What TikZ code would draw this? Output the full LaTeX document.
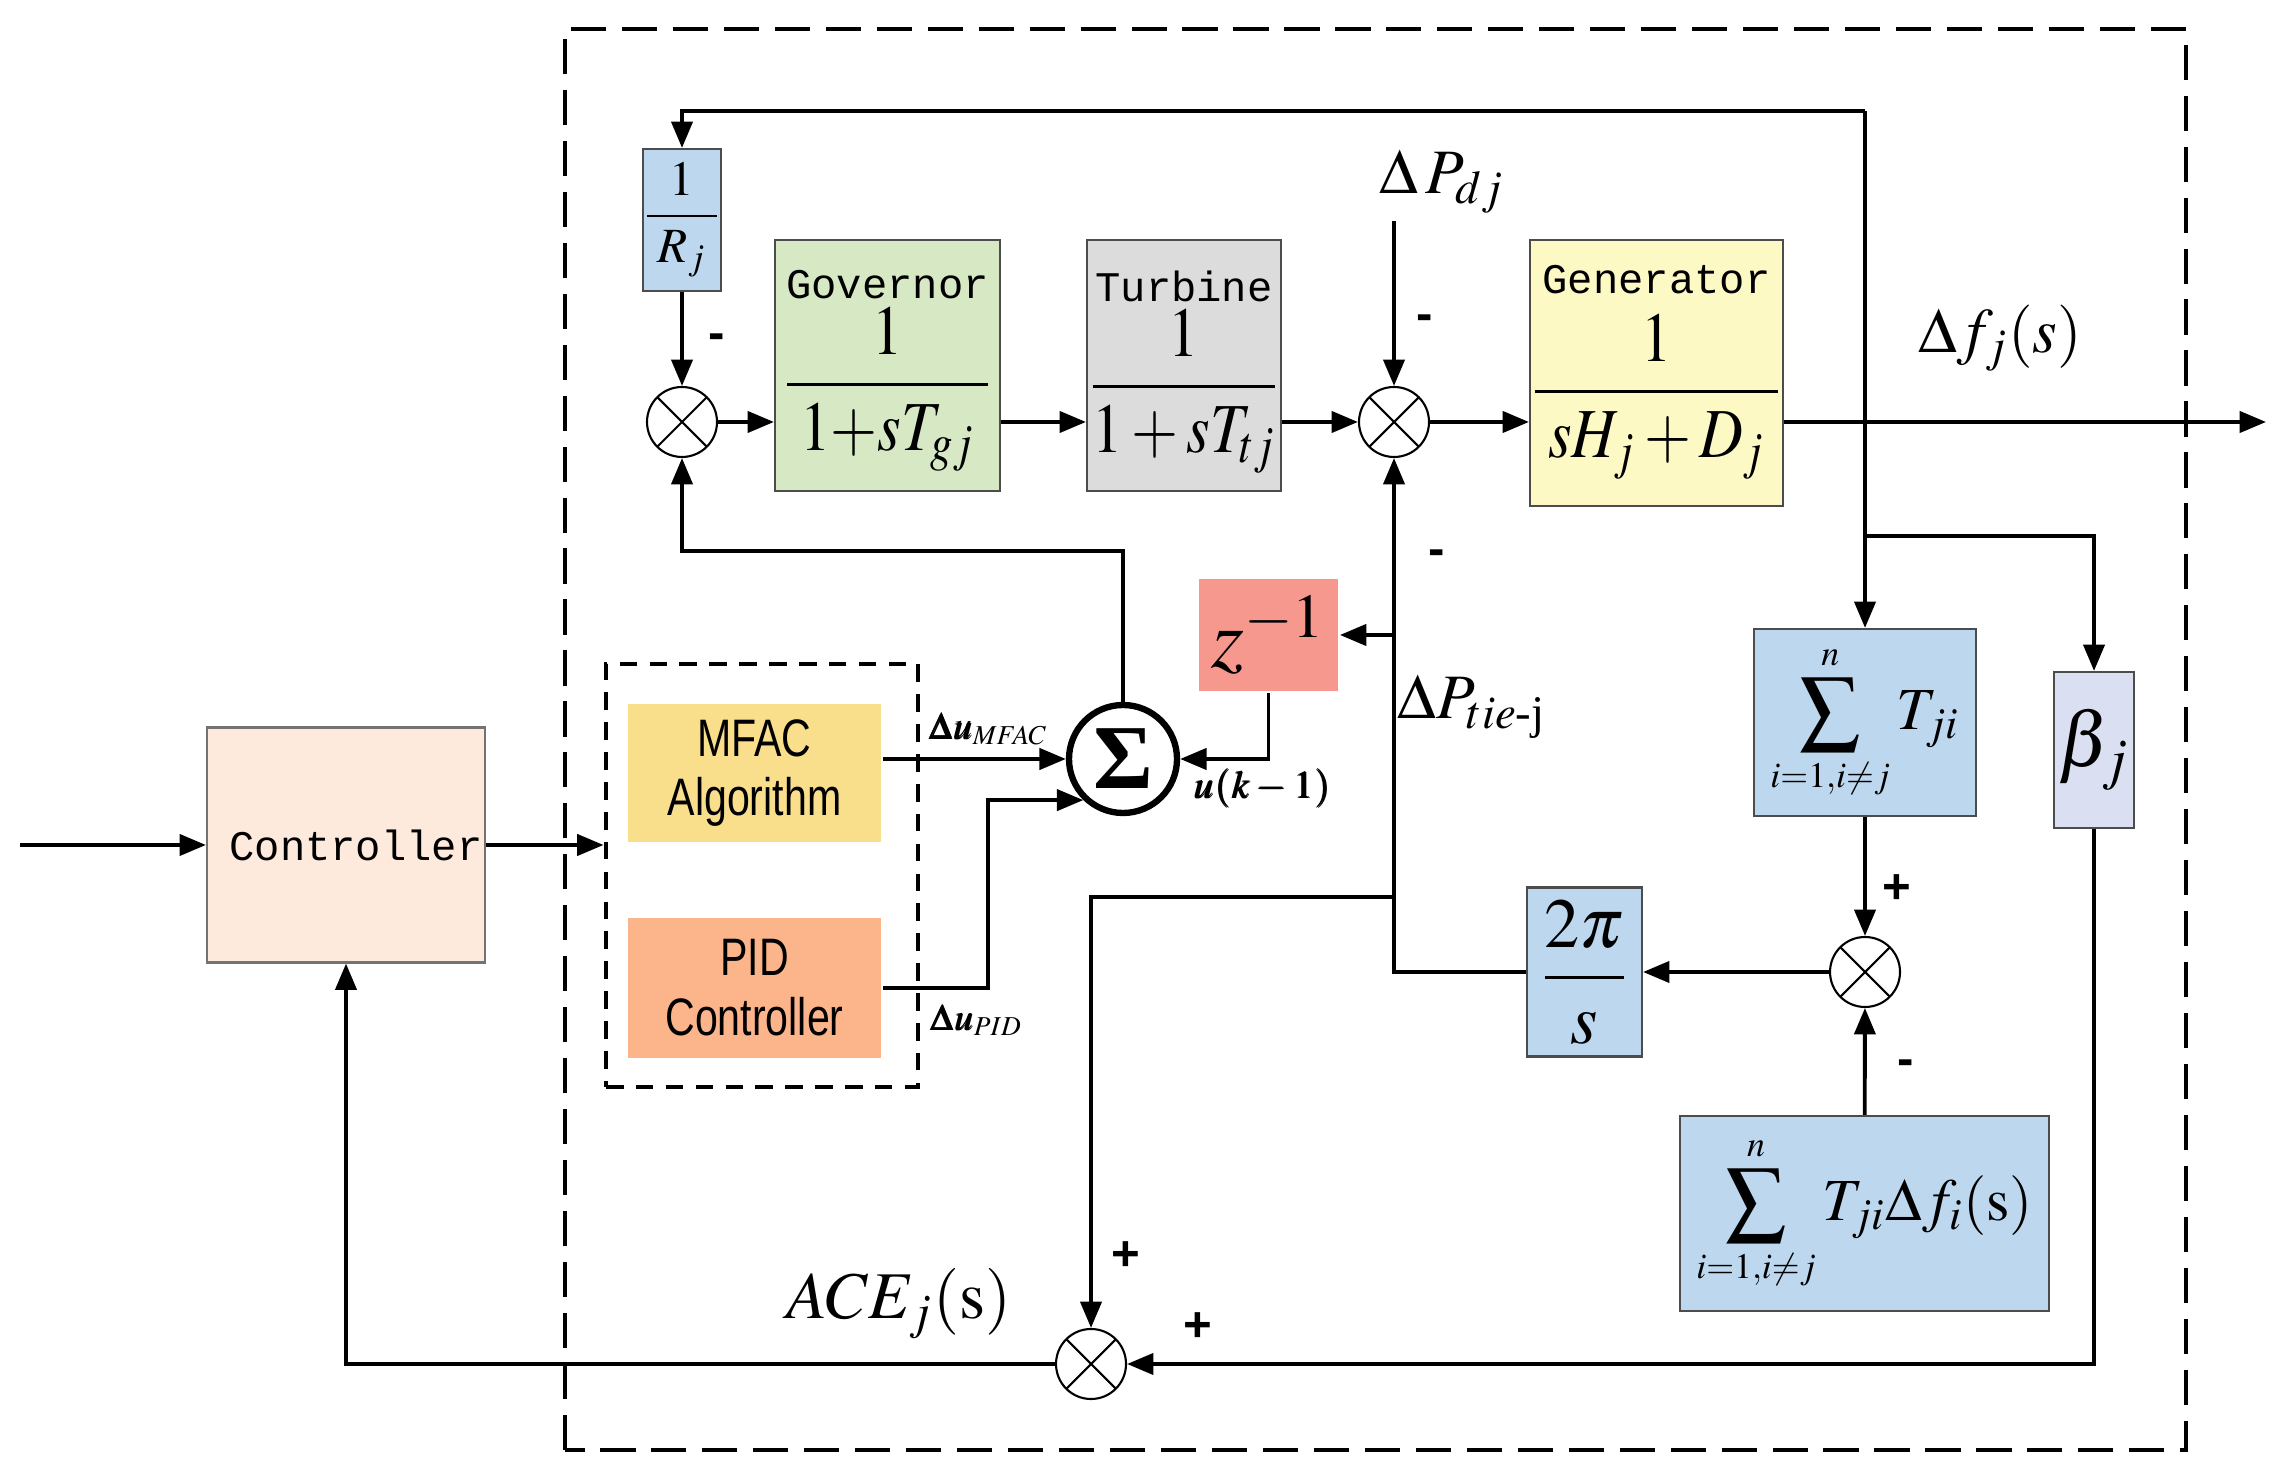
\documentclass[tikz,border=0pt]{standalone}
\usepackage{amsmath}
\usepackage{mathptmx}
\usepackage{bm}
\usepackage{graphicx}
\usepackage[no-math]{fontspec}
\setmainfont{Liberation Serif}
\setsansfont{Liberation Sans}
\setmonofont{Liberation Mono}
\newfontfamily\narrowsans[FakeStretch=0.78]{Liberation Sans}
\usepackage{tikz}
\usetikzlibrary{arrows.meta}

\definecolor{rjblue}{RGB}{189,215,238}
\definecolor{govgreen}{RGB}{214,232,196}
\definecolor{turbgrey}{RGB}{220,220,220}
\definecolor{genyellow}{RGB}{253,249,196}
\definecolor{zred}{RGB}{247,152,142}
\definecolor{mfacyellow}{RGB}{249,222,140}
\definecolor{pidorange}{RGB}{252,180,138}
\definecolor{ctrlpeach}{RGB}{253,234,221}
\definecolor{betablue}{RGB}{218,224,242}

\newcommand{\narrowfrac}[2]{\scalebox{0.86}[1]{$\dfrac{#1}{#2}$}}

\begin{document}
\begin{tikzpicture}[>={Triangle[length=7.5pt,width=6pt]}, line width=1.1pt]
		\tikzstyle{block}=[draw=black!70, line width=0.6pt, inner sep=0pt, align=center];
		\tikzstyle{summer}=[draw, circle, line width=0.6pt, minimum size=0.7cm, inner sep=0pt, path picture={\draw[line width=0.6pt] (path picture bounding box.south west) -- (path picture bounding box.north east) (path picture bounding box.north west) -- (path picture bounding box.south east);}];
		\tikzstyle{sign}=[font=\sffamily\bfseries\fontsize{14}{14}\selectfont];
		\tikzstyle{label}=[font=\fontsize{18}{20}\selectfont];
		\tikzstyle{title}=[font=\ttfamily\fontsize{12}{14}\selectfont];
		\tikzstyle{frac}=[font=\fontsize{20}{24}\selectfont];

		\useasboundingbox (0,0) rectangle (22.73,14.67);
		\draw[dash pattern=on 10pt off 4.5pt, line width=1.2pt] (5.65,0.17) rectangle (21.86,14.38);

		\node[block, fill=rjblue, minimum width=0.72cm, minimum height=1.42cm, font=\fontsize{14}{16}\selectfont] (rj) at (6.82,12.47) {$\dfrac{1}{\;R_j\;}$};
		\node[summer] (s1) at (6.82,10.45) {};
		\node[block, fill=govgreen, minimum width=2.25cm, minimum height=2.51cm] (gov) at (8.875,11.015) {};
		\node[title] (govt) at ([yshift=-0.46cm]gov.north) {Governor};
		\node[frac] (govf) at ([yshift=-0.24cm]gov.center) {\narrowfrac{1}{\;1{+}sT_{gj}\;}};
		\node[block, fill=turbgrey, minimum width=1.94cm, minimum height=2.51cm] (turb) at (11.84,11.015) {};
		\node[title] (turbt) at ([yshift=-0.48cm]turb.north) {Turbine};
		\node[frac] (turbf) at ([yshift=-0.26cm]turb.center) {\narrowfrac{1}{1+sT_{tj}}};
		\node[summer] (s2) at (13.94,10.45) {};
		\node[block, fill=genyellow, minimum width=2.53cm, minimum height=2.66cm] (gen) at (16.565,10.94) {};
		\node[title] (gent) at ([yshift=-0.41cm]gen.north) {Generator};
		\node[frac] (genf) at ([yshift=-0.24cm]gen.center) {\narrowfrac{1}{\;sH_j+D_j\;}};

		\node[block, fill=rjblue, minimum width=2.22cm, minimum height=1.87cm, font=\fontsize{17}{20}\selectfont] (tji) at (18.65,7.445) {$\displaystyle\sum_{\scriptscriptstyle i=1,i\neq j}^{\scriptscriptstyle n} T_{ji}$};
		\node[block, fill=betablue, minimum width=0.80cm, minimum height=1.56cm, font=\fontsize{22}{24}\selectfont] (beta) at (20.94,7.17) {$\beta_j$};
		\node[summer] (s3) at (18.65,4.95) {};
		\node[block, fill=rjblue, minimum width=3.69cm, minimum height=1.95cm, font=\fontsize{17}{20}\selectfont] (tjf) at (18.645,2.535) {$\displaystyle\sum_{\scriptscriptstyle i=1,i\neq j}^{\scriptscriptstyle n} T_{ji}\Delta f_i(\mathrm{s})$};
		\node[block, fill=rjblue, minimum width=1.15cm, minimum height=1.69cm, font=\fontsize{20}{22}\selectfont] (tpi) at (15.845,4.95) {$\dfrac{2\pi}{s}$};

		\node[fill=zred, minimum width=1.39cm, minimum height=1.12cm, inner sep=0pt, font=\fontsize{24}{26}\selectfont] (z) at (12.685,8.32) {$z^{-1}$};
		\node[circle, draw, line width=1.8pt, minimum size=1.08cm, inner sep=0pt, font=\bfseries\fontsize{26}{26}\selectfont] (sig) at (11.23,7.08) {Σ};

		\node[draw, dash pattern=on 5pt off 3.5pt, line width=1.4pt, minimum width=3.12cm, minimum height=4.23cm] (alg) at (7.62,5.915) {};
		\node[fill=mfacyellow, minimum width=2.53cm, minimum height=1.38cm, inner sep=0pt, align=center, font=\narrowsans\fontsize{15}{17}\selectfont] (mfac) at (7.545,6.94) {MFAC\\Algorithm};
		\node[fill=pidorange, minimum width=2.53cm, minimum height=1.40cm, inner sep=0pt, align=center, font=\narrowsans\fontsize{15}{17}\selectfont] (pid) at (7.545,4.79) {PID\\Controller};
		\node[block, draw=black!55, fill=ctrlpeach, minimum width=2.78cm, minimum height=2.35cm, font=\ttfamily\fontsize{12}{14}\selectfont] (ctrl) at (3.46,6.22) {\hspace*{0.2cm}Controller};

		\node[summer] (s4) at (10.91,1.03) {};

		\node[label] (pdj) at (14.42,12.85) {$\Delta\,P_{dj}$};
		\node[label] (dfj) at (20.0,11.29) {$\Delta f_j(s)$};
		\node[label] (ptie) at (14.72,7.60) {$\Delta P_{tie\text{-j}}$};
		\node[label, font=\fontsize{19}{21}\selectfont] (acej) at (8.99,1.63) {$ACE_j(\mathrm{s})$};
		\node[font=\fontsize{10.5}{12}\selectfont] (dum) at (9.88,7.38) {$\bm{\Delta u_{MFAC}}$};
		\node[font=\fontsize{10.5}{12}\selectfont] (dup) at (9.76,4.47) {$\bm{\Delta u_{PID}}$};
		\node[font=\fontsize{11}{12}\selectfont] (uk) at (12.62,6.79) {$\bm{u(k-1)}$};

		\node[sign] at (7.17,11.25) {-};
		\node[sign] at (14.25,11.44) {-};
		\node[sign] at (14.37,9.09) {-};
		\node[sign] at (18.97,5.78) {+};
		\node[sign] at (19.06,3.99) {-};
		\node[sign] at (11.26,2.11) {+};
		\node[sign] at (11.98,1.40) {+};

		\coordinate (top) at (18.65,13.56);
		\coordinate (bb) at (18.65,9.31);
		\coordinate (pdin) at (13.94,12.46);
		\coordinate (dfout) at (22.66,10.45);
		\coordinate (zj) at (13.94,8.32);
		\coordinate (acej1) at (13.94,5.70);
		\coordinate (in) at (0.20,6.22);
		\coordinate (pk) at (9.88,4.79);
		\coordinate (sk) at (6.82,9.16);

		\draw[->] (top) -| (rj);
		\draw[->] (top) -- (tji);
		\draw[->] (bb) -| (beta);
		\draw[->] (rj) -- (s1);
		\draw[->] (s1) -- (s1 -| gov.west);
		\draw[->] (gov.east |- s1) -- (s1 -| turb.west);
		\draw[->] (turb.east |- s2) -- (s2);
		\draw[->] (pdin) -- (s2);
		\draw[->] (s2) -- (s2 -| gen.west);
		\draw[->] (gen.east |- s2) -- (dfout);
		\draw[->] (tji) -- (s3);
		\draw[->] (tjf) -- (s3);
		\draw[->] (s3) -- (tpi);
		\draw[->] (tpi) -| (s2);
		\draw[->] (zj) -- (z);
		\draw[->] (z) |- (sig);
		\draw[->] (sig) |- (sk) -- (s1);
		\draw[->] (mfac.east |- sig) -- (sig);
		\draw[->] (pid.east) -- (pk) |- (sig.226);
		\draw[->] (acej1) -| (s4);
		\draw[->] (beta) |- (s4);
		\draw[->] (s4) -| (ctrl);
		\draw[->] (in) -- (ctrl);
		\draw[->] (ctrl) -- (ctrl -| alg.west);
\end{tikzpicture}
\end{document}
